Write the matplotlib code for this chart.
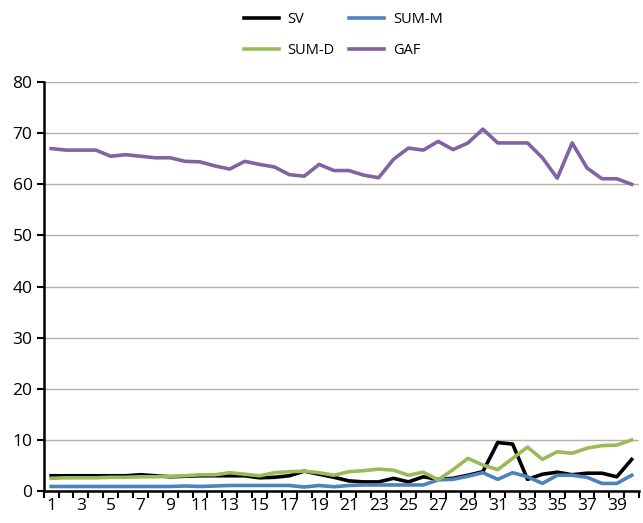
import matplotlib
matplotlib.use("Agg")
import matplotlib.pyplot as plt
import numpy as np

plt.rcParams["font.family"] = ["Open Sans", "DejaVu Sans"]

# categories 1..40
points = list(range(1, 41))

sv = [3.0, 3.0, 3.0, 3.0, 3.0, 3.0, 3.2, 3.0, 2.8, 2.9,
      3.0, 3.0, 3.0, 3.0, 2.6, 2.7, 3.0, 3.9, 3.3, 2.7,
      2.0, 1.8, 1.8, 2.5, 1.8, 2.8, 2.3, 2.5, 3.1, 3.8,
      9.5, 9.2, 2.3, 3.3, 3.7, 3.2, 3.5, 3.5, 2.8, 6.2]
sum_m = [0.9, 0.9, 0.9, 0.9, 0.9, 0.9, 0.9, 0.9, 0.9, 1.0,
         0.9, 1.0, 1.1, 1.1, 1.1, 1.1, 1.1, 0.8, 1.1, 0.85,
         1.1, 1.2, 1.2, 1.2, 1.2, 1.2, 2.2, 2.3, 2.9, 3.6,
         2.3, 3.6, 2.8, 1.5, 3.1, 3.1, 2.7, 1.5, 1.5, 3.1]
sum_d = [2.5, 2.6, 2.6, 2.6, 2.7, 2.7, 2.8, 2.8, 2.9, 3.0,
         3.2, 3.2, 3.6, 3.3, 3.0, 3.6, 3.8, 3.9, 3.6, 3.1,
         3.8, 4.0, 4.3, 4.1, 3.1, 3.7, 2.2, 4.2, 6.4, 5.1,
         4.2, 6.4, 8.6, 6.2, 7.7, 7.4, 8.4, 8.9, 9.0, 10.0]
gaf = [67.0, 66.7, 66.7, 66.7, 65.5, 65.8, 65.5, 65.2, 65.2, 64.5,
       64.4, 63.6, 63.0, 64.5, 63.9, 63.4, 61.9, 61.6, 63.9, 62.7,
       62.7, 61.8, 61.3, 64.9, 67.1, 66.7, 68.4, 66.8, 68.1, 70.8,
       68.1, 68.1, 68.1, 65.2, 61.2, 68.1, 63.2, 61.1, 61.1, 60.0]

series = [("SV", sv, "#000000"), ("SUM-M", sum_m, "#4f81bd"),
          ("SUM-D", sum_d, "#9bbb59"), ("GAF", gaf, "#8064a2")]

fig = plt.figure(figsize=(6.43, 5.23), dpi=100)
ax = fig.add_axes([0.068, 0.061, 0.926, 0.782])

lines = {}
for name, values, color in series:
    lines[name], = ax.plot(points, values, color=color, linewidth=2.6, label=name,
                           solid_joinstyle="round", zorder=3)

ax.set_xlim(0.5, 40.5)
ax.set_ylim(0, 80)
ax.set_yticks(np.arange(0, 81, 10))
ax.set_xticks(points[::2])
ax.set_xticks(np.arange(0.5, 41, 1), minor=True)
ax.tick_params(axis="x", which="major", length=0, labelsize=12.5, pad=5)
ax.tick_params(axis="x", which="minor", length=5, width=1.5, direction="out")
ax.tick_params(axis="y", length=5, width=1.5, direction="out", labelsize=12.5, pad=3)
ax.yaxis.grid(True, color="#b0b0b0", linewidth=1.0, zorder=0)
ax.set_axisbelow(True)
for side in ["top", "right"]:
    ax.spines[side].set_visible(False)
for side in ["left", "bottom"]:
    ax.spines[side].set_linewidth(1.8)

# legend fills column-wise: order so rows read SV, SUM-M / SUM-D, GAF
order = ["SV", "SUM-D", "SUM-M", "GAF"]
fig.legend([lines[n] for n in order], order, ncol=2, loc="center",
           bbox_to_anchor=(0.534, 0.933), frameon=False, fontsize=10.5,
           handlelength=2.4, columnspacing=1.0, labelspacing=1.1, handletextpad=0.6)

fig.savefig("out.png", dpi=100)
plt.close(fig)
